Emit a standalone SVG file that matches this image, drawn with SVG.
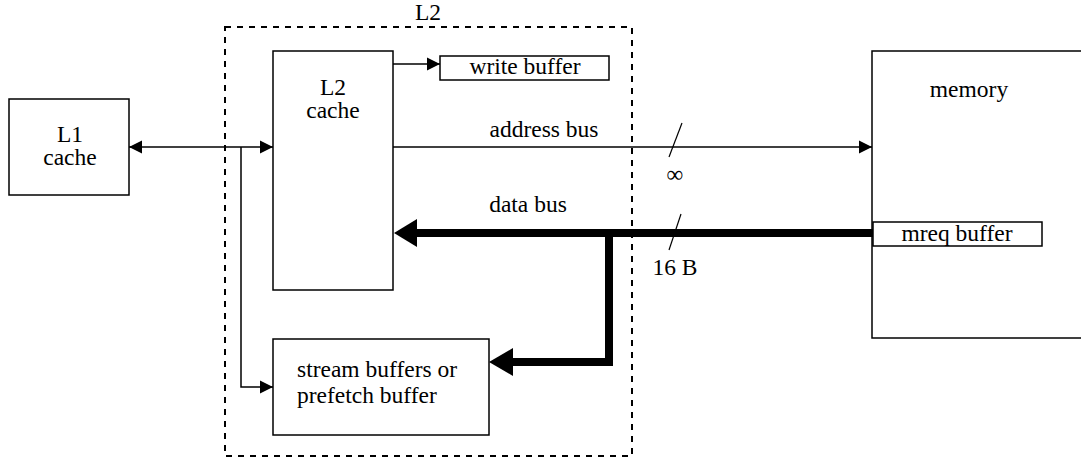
<svg xmlns="http://www.w3.org/2000/svg" width="1081" height="460" viewBox="0 0 1081 460">
<defs>
<style>
.box{fill:#fff;stroke:#000;stroke-width:1.5}
text{font-family:'Liberation Serif','Times New Roman',serif;font-size:23.5px;fill:#000}
.m{text-anchor:middle}
.thin{fill:none;stroke:#000;stroke-width:1.5}
.thick{fill:none;stroke:#000;stroke-width:8}
</style>
<marker id="ah" viewBox="0 0 10 10" refX="10" refY="5" markerWidth="13" markerHeight="14" markerUnits="userSpaceOnUse" orient="auto-start-reverse"><path d="M0,0 L10,5 L0,10 Z" fill="#000"/></marker>
</defs>
<rect width="1081" height="460" fill="#fff"/>
<g id="l2-region">
<rect x="225" y="27" width="407" height="429" fill="none" stroke="#000" stroke-width="2" stroke-dasharray="6,6"/>
<text class="m" x="428" y="20">L2</text>
</g>
<g id="l1-cache">
<rect class="box" x="9" y="99" width="120" height="96"/>
<text class="m" x="70" y="142">L1</text>
<text class="m" x="70" y="165">cache</text>
</g>
<g id="l2-cache">
<rect class="box" x="273" y="51" width="120" height="239"/>
<text class="m" x="333" y="95">L2</text>
<text class="m" x="333" y="118">cache</text>
</g>
<g id="write-buffer">
<rect class="box" x="440" y="56" width="169" height="24"/>
<text class="m" x="525" y="74">write buffer</text>
</g>
<g id="stream-buffers">
<rect class="box" x="273" y="339" width="216" height="96"/>
<text x="297" y="377">stream buffers or</text>
<text x="297" y="403">prefetch buffer</text>
</g>
<g id="memory">
<rect class="box" x="872" y="51" width="220" height="287"/>
<text class="m" x="969" y="97">memory</text>
</g>
<g id="mreq-buffer">
<rect class="box" x="873" y="222" width="169" height="24"/>
<text class="m" x="957" y="241">mreq buffer</text>
</g>
<g id="connectors">
<line class="thin" x1="129" y1="147" x2="273" y2="147" marker-start="url(#ah)" marker-end="url(#ah)"/>
<polyline class="thin" points="241,147 241,387 273,387" marker-end="url(#ah)"/>
<line class="thin" x1="393" y1="64" x2="440" y2="64" marker-end="url(#ah)"/>
<line class="thin" x1="393" y1="147" x2="872" y2="147" marker-end="url(#ah)"/>
<line class="thick" x1="873" y1="233" x2="415" y2="233"/>
<path d="M394,233 L417,219 L417,247 Z" fill="#000"/>
<polyline class="thick" points="609,233 609,362 511,362"/>
<path d="M489,362 L513,348 L513,376 Z" fill="#000"/>
<line x1="682" y1="123" x2="669" y2="157" stroke="#000" stroke-width="1.2"/>
<line x1="681" y1="214" x2="669" y2="250" stroke="#000" stroke-width="1.2"/>
<text class="m" x="544" y="137">address bus</text>
<text class="m" x="528" y="212">data bus</text>
<text class="m" x="675" y="182">∞</text>
<text class="m" x="675" y="275">16 B</text>
</g>
</svg>
